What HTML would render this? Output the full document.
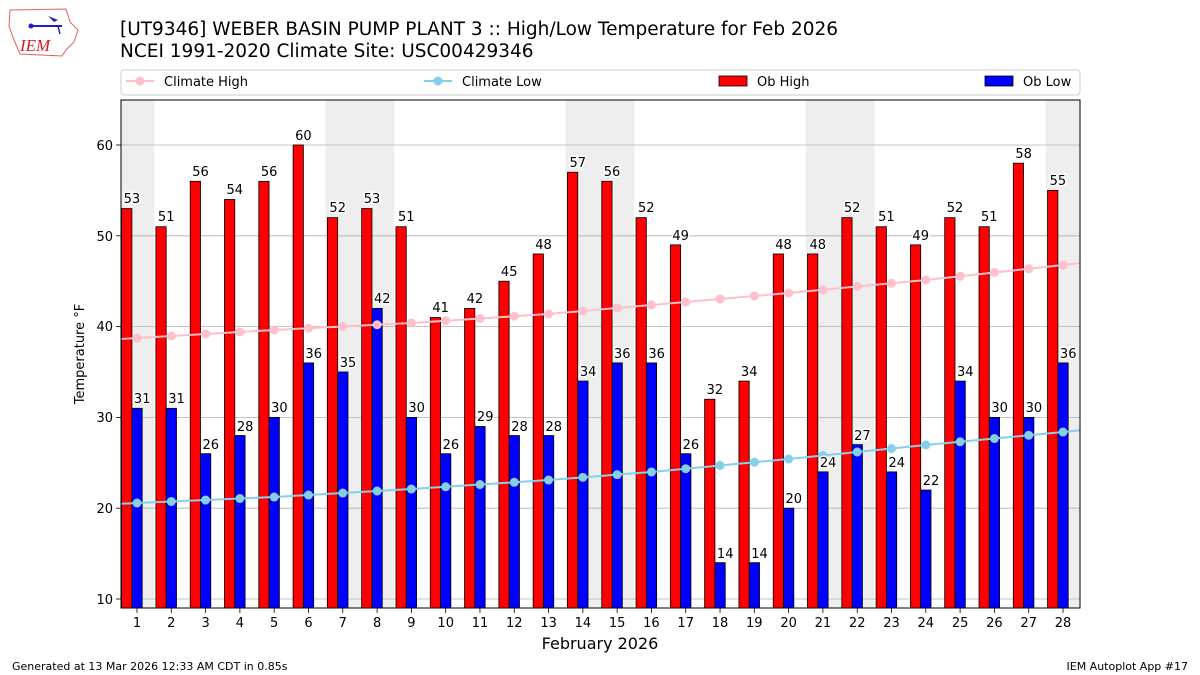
<!DOCTYPE html>
<html><head><meta charset="utf-8"><style>
html,body{margin:0;padding:0;background:#fff;}
svg{display:block;font-family:"DejaVu Sans","Liberation Sans",sans-serif;}
#labels text{paint-order:stroke;stroke:#fff;stroke-width:3px;stroke-linejoin:round;}
</style></head><body>
<svg id="s" width="1200" height="675" viewBox="0 0 1200 675" xmlns="http://www.w3.org/2000/svg">
<g>
<path d="M10,10 L66,9 L70,22 L78,30 L74,42 L66,50 L62,56 L20,54 L14,40 L9,26 Z" fill="none" stroke="#e06060" stroke-width="1"/>
<line x1="30" y1="26" x2="62" y2="26" stroke="#2020c0" stroke-width="2"/>
<circle cx="31" cy="26" r="2.5" fill="#2020c0"/>
<path d="M48,16 L58,20 L54,22 Z" fill="#2020c0"/>
<line x1="58" y1="26" x2="60" y2="34" stroke="#2020c0" stroke-width="1.5"/>
<text x="20" y="51" font-family="Liberation Serif,serif" font-style="italic" font-size="17" fill="#d02020">IEM</text>
</g>
<text x="120" y="35" font-size="18.5">[UT9346] WEBER BASIN PUMP PLANT 3 :: High/Low Temperature for Feb 2026</text>
<text x="120" y="57" font-size="18.5">NCEI 1991-2020 Climate Site: USC00429346</text>
<rect x="121" y="70" width="959" height="25" rx="3" fill="#fff" stroke="#ccc"/>
<line x1="126" y1="81" x2="154" y2="81" stroke="pink" stroke-width="2"/><circle cx="140" cy="81" r="4.5" fill="pink"/>
<text x="164" y="86" font-size="13">Climate High</text>
<line x1="424" y1="81" x2="452" y2="81" stroke="skyblue" stroke-width="2"/><circle cx="438" cy="81" r="4.5" fill="skyblue"/>
<text x="462" y="86" font-size="13">Climate Low</text>
<rect x="719" y="76" width="28" height="10" fill="red" stroke="#000" stroke-width="0.8"/>
<text x="757" y="86" font-size="13">Ob High</text>
<rect x="985" y="76" width="28" height="10" fill="blue" stroke="#000" stroke-width="0.8"/>
<text x="1023" y="86" font-size="13">Ob Low</text>
<g id="plot"></g>
<g id="labels" font-size="13" text-anchor="middle">
<text x="131.9" y="203">53</text><text x="166.2" y="221">51</text><text x="200.5" y="176">56</text><text x="234.8" y="194">54</text><text x="269.1" y="176">56</text><text x="303.4" y="140">60</text><text x="337.7" y="212">52</text><text x="372" y="203">53</text><text x="406.3" y="221">51</text><text x="440.6" y="312">41</text><text x="474.9" y="303">42</text><text x="509.2" y="276">45</text><text x="543.5" y="249">48</text><text x="577.8" y="167">57</text><text x="612" y="176">56</text><text x="646.3" y="212">52</text><text x="680.6" y="240">49</text><text x="714.9" y="394">32</text><text x="749.2" y="376">34</text><text x="783.5" y="249">48</text><text x="817.8" y="249">48</text><text x="852.1" y="212">52</text><text x="886.4" y="221">51</text><text x="920.7" y="240">49</text><text x="955" y="212">52</text><text x="989.3" y="221">51</text><text x="1023.6" y="158">58</text><text x="1057.9" y="185">55</text>
<text x="142.2" y="403">31</text><text x="176.5" y="403">31</text><text x="210.8" y="449">26</text><text x="245.1" y="431">28</text><text x="279.4" y="412">30</text><text x="313.7" y="358">36</text><text x="348" y="367">35</text><text x="382.3" y="303">42</text><text x="416.6" y="412">30</text><text x="450.9" y="449">26</text><text x="485.2" y="421">29</text><text x="519.5" y="431">28</text><text x="553.8" y="431">28</text><text x="588.1" y="376">34</text><text x="622.3" y="358">36</text><text x="656.6" y="358">36</text><text x="690.9" y="449">26</text><text x="725.2" y="558">14</text><text x="759.5" y="558">14</text><text x="793.8" y="503">20</text><text x="828.1" y="467">24</text><text x="862.4" y="440">27</text><text x="896.7" y="467">24</text><text x="931" y="485">22</text><text x="965.3" y="376">34</text><text x="999.6" y="412">30</text><text x="1033.9" y="412">30</text><text x="1068.2" y="358">36</text>
</g>
<g font-size="13" text-anchor="end">
<text x="113" y="604">10</text><text x="113" y="513">20</text><text x="113" y="422">30</text><text x="113" y="331">40</text><text x="113" y="241">50</text><text x="113" y="150">60</text>
</g>
<g font-size="13" text-anchor="middle">
<text x="137" y="627">1</text><text x="171.3" y="627">2</text><text x="205.6" y="627">3</text><text x="239.9" y="627">4</text><text x="274.2" y="627">5</text><text x="308.5" y="627">6</text><text x="342.8" y="627">7</text><text x="377.1" y="627">8</text><text x="411.4" y="627">9</text><text x="445.7" y="627">10</text><text x="480" y="627">11</text><text x="514.3" y="627">12</text><text x="548.6" y="627">13</text><text x="582.9" y="627">14</text><text x="617.1" y="627">15</text><text x="651.4" y="627">16</text><text x="685.7" y="627">17</text><text x="720" y="627">18</text><text x="754.3" y="627">19</text><text x="788.6" y="627">20</text><text x="822.9" y="627">21</text><text x="857.2" y="627">22</text><text x="891.5" y="627">23</text><text x="925.8" y="627">24</text><text x="960.1" y="627">25</text><text x="994.4" y="627">26</text><text x="1028.7" y="627">27</text><text x="1063" y="627">28</text>
</g>
<text x="600" y="649" font-size="16" text-anchor="middle">February 2026</text>
<text x="84" y="354" font-size="13" text-anchor="middle" transform="rotate(-90 84 354)">Temperature °F</text>
<text x="12" y="670" font-size="11">Generated at 13 Mar 2026 12:33 AM CDT in 0.85s</text>
<text x="1188" y="670" font-size="11" text-anchor="end">IEM Autoplot App #17</text>
</svg>
<script>
(function(){
var H=[53,51,56,54,56,60,52,53,51,41,42,45,48,57,56,52,49,32,34,48,48,52,51,49,52,51,58,55];
var L=[31,31,26,28,30,36,35,42,30,26,29,28,28,34,36,36,26,14,14,20,24,27,24,22,34,30,30,36];
function px(d){return 137+(d-1)*34.296;}
function py(v){return 599-(v-10)*9.08;}
var AD=[1,5,9,13,16,20,24,28];
var AH=[38.74,39.63,40.4,41.39,42.38,43.7,45.13,46.78];
var AL=[20.57,21.23,22.11,23.1,23.99,25.42,26.96,28.39];
function interp(A,d){
 var i=0; if(d<=AD[0]){i=0;} else if(d>=AD[AD.length-1]){i=AD.length-2;} else {while(d>AD[i+1])i++;}
 var t=(d-AD[i])/(AD[i+1]-AD[i]); return A[i]+t*(A[i+1]-A[i]);}
var o='';
o+='<rect x="121" y="100" width="959" height="508" fill="#fff"/>';
[[0.5335,1.5],[6.5,8.5],[13.5,15.5],[20.5,22.5],[27.5,28.496]].forEach(function(r){
 o+='<rect x="'+px(r[0])+'" y="100" width="'+(px(r[1])-px(r[0]))+'" height="508" fill="#eee"/>';});
[10,20,30,40,50,60].forEach(function(v){o+='<line x1="121" x2="1080" y1="'+py(v)+'" y2="'+py(v)+'" stroke="#b0b0b0" stroke-width="0.8"/>';
 o+='<line x1="116" x2="121" y1="'+py(v)+'" y2="'+py(v)+'" stroke="#000" stroke-width="0.8"/>';});
for(var i=0;i<28;i++){var c=px(i+1);
 o+='<rect x="'+(c-15.4)+'" y="'+py(H[i])+'" width="10.3" height="'+(608-py(H[i]))+'" fill="red" stroke="#000" stroke-width="0.8"/>';
 o+='<rect x="'+(c-5.1)+'" y="'+py(L[i])+'" width="10.3" height="'+(608-py(L[i]))+'" fill="blue" stroke="#000" stroke-width="0.8"/>';
 o+='<line x1="'+c+'" x2="'+c+'" y1="608" y2="613" stroke="#000" stroke-width="0.8"/>';}
function line(A,col){var p='M121,'+py(interp(A,0.5335))+' ';
 for(var d=1;d<=28;d++)p+='L'+px(d)+','+py(interp(A,d))+' ';
 p+='L1080,'+py(interp(A,28.496));
 o+='<path d="'+p+'" fill="none" stroke="'+col+'" stroke-width="2"/>';
 for(var d=1;d<=28;d++)o+='<circle cx="'+px(d)+'" cy="'+py(interp(A,d))+'" r="4.5" fill="'+col+'"/>';}
line(AH,'pink');line(AL,'skyblue');
o+='<rect x="121" y="100" width="959" height="508" fill="none" stroke="#000" stroke-width="1"/>';
document.getElementById('plot').innerHTML=o;
})();
</script>
</body></html>
